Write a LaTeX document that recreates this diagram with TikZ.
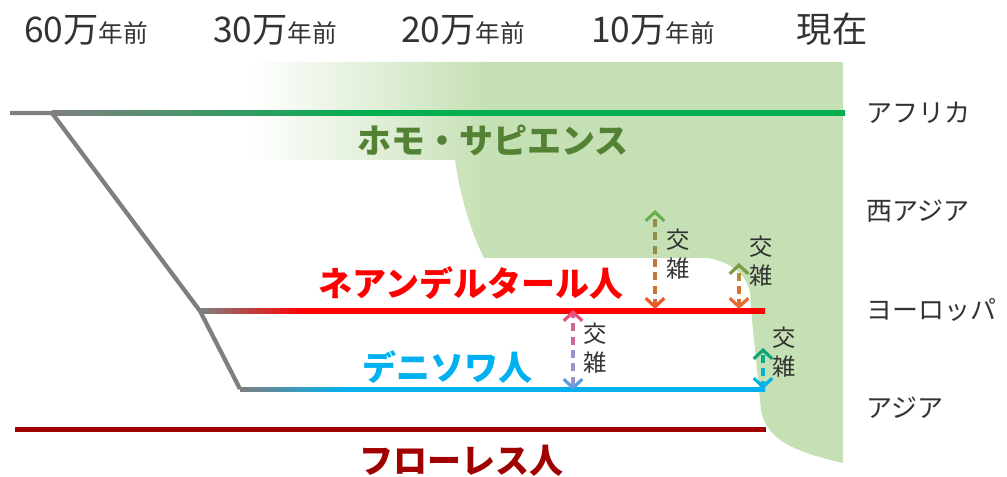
\documentclass[tikz,border=0pt]{standalone}
\usepackage{fontspec}
\newfontfamily\jp{Noto Sans CJK JP}
\usetikzlibrary{arrows.meta}
\definecolor{bggreen}{HTML}{C5E0B4}
\definecolor{lgray}{HTML}{7F7F7F}
\definecolor{sapline}{HTML}{00B050}
\definecolor{saptext}{HTML}{548235}
\definecolor{neared}{HTML}{FF0000}
\definecolor{denblue}{HTML}{00B0F0}
\definecolor{flored}{HTML}{A00000}
\definecolor{labgray}{HTML}{333333}
% hybridisation arrow colours
\definecolor{hAtt}{RGB}{106,174,80}\definecolor{hAtd}{RGB}{150,140,70}
\definecolor{hAbd}{RGB}{200,115,60}\definecolor{hAbt}{RGB}{240,85,40}
\definecolor{hBtt}{RGB}{127,154,69}\definecolor{hBtd}{RGB}{180,140,60}
\definecolor{hBbd}{RGB}{215,115,50}\definecolor{hBbt}{RGB}{232,106,48}
\definecolor{hCtt}{RGB}{232,80,122}\definecolor{hCtd}{RGB}{205,105,150}
\definecolor{hCbd}{RGB}{150,150,205}\definecolor{hCbt}{RGB}{94,156,224}
\definecolor{hDtt}{RGB}{16,165,120}\definecolor{hDtd}{RGB}{16,168,150}
\definecolor{hDbd}{RGB}{10,176,210}\definecolor{hDbt}{RGB}{0,176,232}
\pgfdeclarehorizontalshading{sapsh}{100bp}{color(0bp)=(lgray); color(25bp)=(lgray); color(45bp)=(sapline); color(100bp)=(sapline)}
\pgfdeclarehorizontalshading{neash}{100bp}{color(0bp)=(lgray); color(25bp)=(lgray); color(34bp)=(neared); color(100bp)=(neared)}
\pgfdeclarehorizontalshading{densh}{100bp}{color(0bp)=(lgray); color(25bp)=(lgray); color(35bp)=(denblue); color(100bp)=(denblue)}
\pgfdeclarehorizontalshading{bgsh}{100bp}{color(0bp)=(white); color(25bp)=(white); color(45bp)=(bggreen); color(100bp)=(bggreen)}
\tikzset{
  title/.style={font=\jp\bfseries\fontsize{25.5}{30}\selectfont, inner sep=0pt},
  region/.style={font=\jp\fontsize{19.5}{24}\selectfont, text=labgray, inner sep=0pt, anchor=west},
  epoch/.style={inner sep=0pt, anchor=base, text=labgray},
  kz/.style={font=\jp\fontsize{17.5}{22}\selectfont, text=labgray, inner sep=0pt, align=center},
  hyb/.style={line width=2.4pt, dash pattern=on 6pt off 4pt},
  tipA/.style={-{Straight Barb[length=6.5pt,width=14pt,color=#1]}},
}
\newcommand{\epbig}[1]{{\fontsize{26.5}{30}\selectfont #1}}
\newcommand{\epsm}[1]{{\fontsize{18.5}{22}\selectfont #1}}
\begin{document}
\begin{tikzpicture}[x=0.75pt,y=-0.75pt]
\useasboundingbox (0,0) rectangle (1007,477);
% green background region
\begin{scope}
\clip (250,62) -- (843,62) -- (843,463)
  .. controls (795,452) and (766,440) .. (761,410)
  -- (752,320) -- (750,292)
  .. controls (746,274) and (730,262) .. (708,258)
  -- (484,258)
  .. controls (470,230) and (460,195) .. (455,160)
  -- (250,160) -- cycle;
\shade[shading=bgsh] (250,50) rectangle (850,470);
\end{scope}
% coordinates
\coordinate (root) at (10,113);
\coordinate (s0) at (52,113);
\coordinate (n0) at (200,311);
\coordinate (d0) at (240,389);
% lineages (gradient from grey)
\shade[shading=sapsh] (52,111) rectangle (845,115.5);
\shade[shading=neash] (200,309) rectangle (765,313.5);
\shade[shading=densh] (240,387) rectangle (765,391.5);
\fill[flored] (15,427) rectangle (766,431.5);
\draw[lgray, line width=3.2pt, line join=round] (root) -- (s0) -- (n0) -- (d0);
% titles
\node[title, text=saptext] (hs) at (493,140) {ホモ・サピエンス};
\node[title, text=neared] (ne) at (471,283) {ネアンデルタール人};
\node[title, text=denblue] (de) at (447,367) {デニソワ人};
\node[title, text=flored] (fl) at (461,461) {フローレス人};
% epochs
\node[epoch] (e60) at (86,43) {\jp\epbig{60万}\epsm{年前}};
\node[epoch] (e30) at (275,43) {\jp\epbig{30万}\epsm{年前}};
\node[epoch] (e20) at (463,43) {\jp\epbig{20万}\epsm{年前}};
\node[epoch] (e10) at (653,43) {\jp\epbig{10万}\epsm{年前}};
\node[epoch] (e0) at (832,43) {\jp\epbig{現在}};
% regions
\node[region] (r1) at (866,113) {アフリカ};
\node[region] (r2) at (866,211) {西アジア};
\node[region] (r3) at (866,310) {ヨーロッパ};
\node[region] (r4) at (866,408) {アジア};
% hybridisation arrows
\coordinate (a1t) at (655,210); \coordinate (a1m) at (655,259); \coordinate (a1b) at (655,309);
\draw[hyb, hAtd, tipA=hAtt, dash phase=6pt] (a1m) -- (a1t);
\draw[hyb, hAbd, tipA=hAbt] (a1m) -- (a1b);
\node[kz] (k1) at (678,254) {交\\雑};
\coordinate (a2t) at (739,263); \coordinate (a2m) at (739,286); \coordinate (a2b) at (739,309);
\draw[hyb, hBtd, tipA=hBtt, dash phase=6pt] (a2m) -- (a2t);
\draw[hyb, hBbd, tipA=hBbt] (a2m) -- (a2b);
\node[kz] (k2) at (761,261) {交\\雑};
\coordinate (a3t) at (573,310); \coordinate (a3m) at (573,350); \coordinate (a3b) at (573,390);
\draw[hyb, hCtd, tipA=hCtt, dash phase=6pt] (a3m) -- (a3t);
\draw[hyb, hCbd, tipA=hCbt] (a3m) -- (a3b);
\node[kz] (k3) at (595,348) {交\\雑};
\coordinate (a4t) at (763,348); \coordinate (a4m) at (763,368); \coordinate (a4b) at (763,389);
\draw[hyb, hDtd, tipA=hDtt, dash phase=6pt] (a4m) -- (a4t);
\draw[hyb, hDbd, tipA=hDbt] (a4m) -- (a4b);
\node[kz] (k4) at (784,352) {交\\雑};
\end{tikzpicture}
\end{document}
